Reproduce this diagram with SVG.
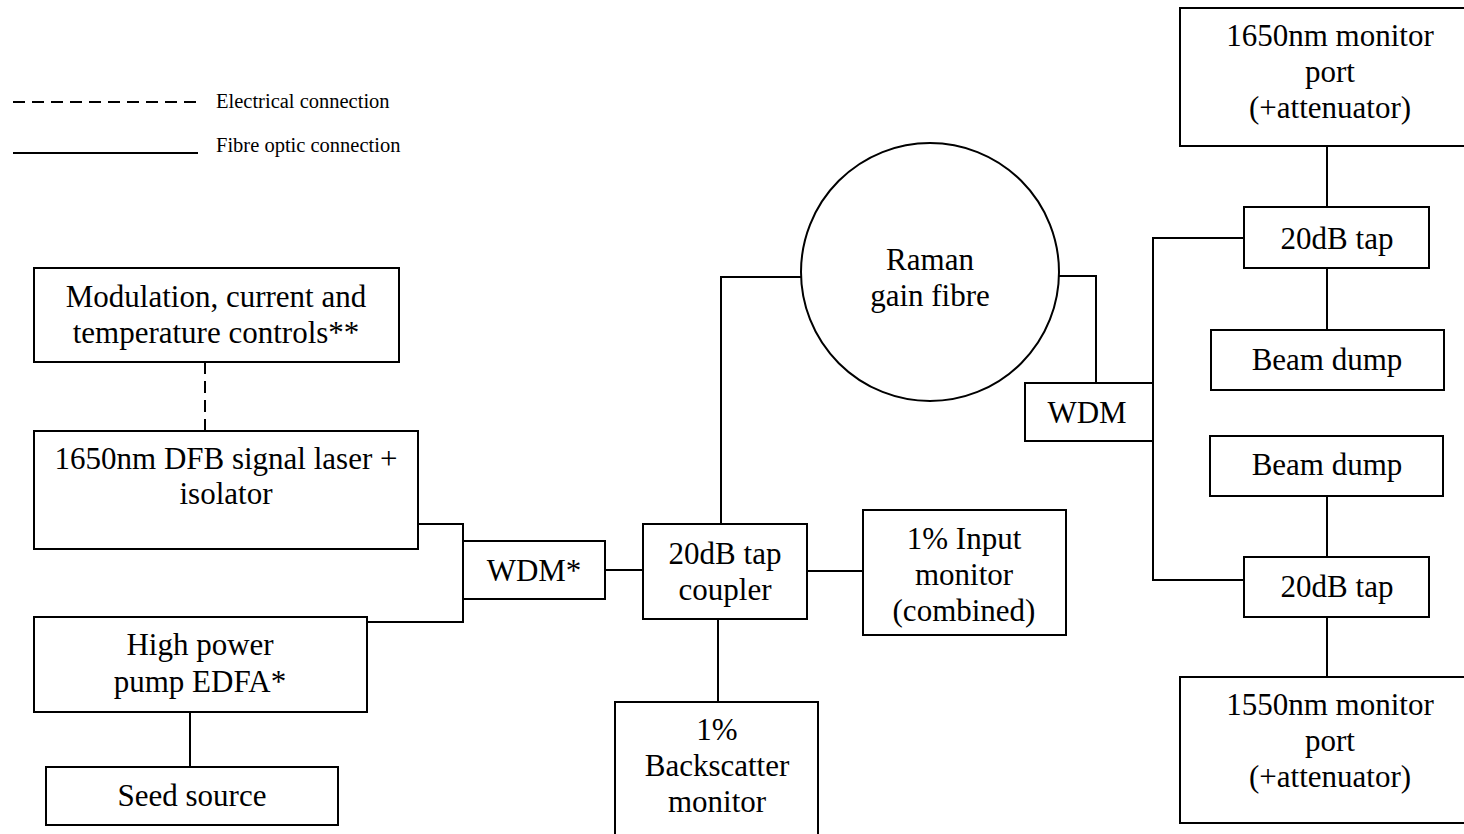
<svg xmlns="http://www.w3.org/2000/svg" width="1464" height="834" viewBox="0 0 1464 834">
<style>
.box{fill:#fff;stroke:#000;stroke-width:2}
.t{font-family:"Liberation Serif","Times New Roman",serif;font-size:31px;fill:#000;text-anchor:middle}
.lg{font-family:"Liberation Serif","Times New Roman",serif;font-size:20.5px;fill:#000}
.ln{fill:none;stroke:#000;stroke-width:2}
.dash{fill:none;stroke:#000;stroke-width:2;stroke-dasharray:12,7}
</style>
<rect width="1464" height="834" fill="#fff"/>
<g id="legend">
<line class="dash" x1="13" y1="102" x2="198" y2="102"/>
<text class="lg" x="216" y="108">Electrical connection</text>
<line class="ln" x1="13" y1="153" x2="198" y2="153"/>
<text class="lg" x="216" y="152">Fibre optic connection</text>
</g>
<g id="connectors">
<line class="dash" x1="205" y1="362" x2="205" y2="431"/>
<polyline class="ln" points="418,524 463,524 463,622 367,622"/>
<line class="ln" x1="605" y1="570" x2="643" y2="570"/>
<line class="ln" x1="807" y1="571" x2="863" y2="571"/>
<polyline class="ln" points="721,524 721,277 801,277"/>
<line class="ln" x1="718" y1="619" x2="718" y2="702"/>
<line class="ln" x1="190" y1="712" x2="190" y2="767"/>
<polyline class="ln" points="1059,276 1096,276 1096,383"/>
<polyline class="ln" points="1244,238 1153,238 1153,580 1244,580"/>
<line class="ln" x1="1327" y1="146" x2="1327" y2="207"/>
<line class="ln" x1="1327" y1="268" x2="1327" y2="330"/>
<line class="ln" x1="1327" y1="496" x2="1327" y2="557"/>
<line class="ln" x1="1327" y1="617" x2="1327" y2="677"/>
</g>
<g id="controls">
<rect class="box" x="34" y="268" width="365" height="94"/>
<text class="t" x="216" y="307">Modulation, current and</text>
<text class="t" x="216" y="343">temperature controls**</text>
</g>
<g id="dfb">
<rect class="box" x="34" y="431" width="384" height="118"/>
<text class="t" x="226" y="469">1650nm DFB signal laser +</text>
<text class="t" x="226" y="504">isolator</text>
</g>
<g id="edfa">
<rect class="box" x="34" y="617" width="333" height="95"/>
<text class="t" x="200" y="655">High power</text>
<text class="t" x="200" y="692">pump EDFA*</text>
</g>
<g id="seed">
<rect class="box" x="46" y="767" width="292" height="58"/>
<text class="t" x="192" y="806">Seed source</text>
</g>
<g id="wdm1">
<rect class="box" x="463" y="541" width="142" height="58"/>
<text class="t" x="534" y="581">WDM*</text>
</g>
<g id="coupler">
<rect class="box" x="643" y="524" width="164" height="95"/>
<text class="t" x="725" y="564">20dB tap</text>
<text class="t" x="725" y="600">coupler</text>
</g>
<g id="input-monitor">
<rect class="box" x="863" y="510" width="203" height="125"/>
<text class="t" x="964" y="549">1% Input</text>
<text class="t" x="964" y="585">monitor</text>
<text class="t" x="964" y="621">(combined)</text>
</g>
<g id="backscatter">
<rect class="box" x="615" y="702" width="203" height="140"/>
<text class="t" x="717" y="740">1%</text>
<text class="t" x="717" y="776">Backscatter</text>
<text class="t" x="717" y="812">monitor</text>
</g>
<g id="raman">
<ellipse class="box" cx="930" cy="272" rx="129" ry="129"/>
<text class="t" x="930" y="270">Raman</text>
<text class="t" x="930" y="306">gain fibre</text>
</g>
<g id="wdm2">
<rect class="box" x="1025" y="383" width="128" height="58"/>
<text class="t" x="1087" y="423">WDM</text>
</g>
<g id="mon1650">
<rect class="box" x="1180" y="8" width="290" height="138"/>
<text class="t" x="1330" y="46">1650nm monitor</text>
<text class="t" x="1330" y="82">port</text>
<text class="t" x="1330" y="118">(+attenuator)</text>
</g>
<g id="tap1">
<rect class="box" x="1244" y="207" width="185" height="61"/>
<text class="t" x="1337" y="249">20dB tap</text>
</g>
<g id="dump1">
<rect class="box" x="1211" y="330" width="233" height="60"/>
<text class="t" x="1327" y="370">Beam dump</text>
</g>
<g id="dump2">
<rect class="box" x="1210" y="436" width="233" height="60"/>
<text class="t" x="1327" y="475">Beam dump</text>
</g>
<g id="tap2">
<rect class="box" x="1244" y="557" width="185" height="60"/>
<text class="t" x="1337" y="597">20dB tap</text>
</g>
<g id="mon1550">
<rect class="box" x="1180" y="677" width="290" height="146"/>
<text class="t" x="1330" y="715">1550nm monitor</text>
<text class="t" x="1330" y="751">port</text>
<text class="t" x="1330" y="787">(+attenuator)</text>
</g>
</svg>
